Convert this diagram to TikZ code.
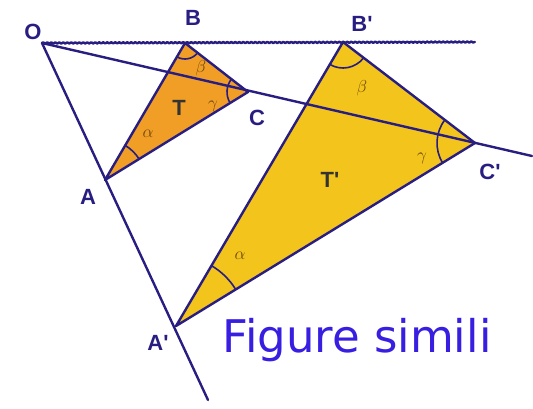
\documentclass[tikz,border=0pt]{standalone}
\usepackage{fontspec}
\setmainfont{Liberation Sans}
\newfontfamily\titlefont{DejaVu Sans}
\usetikzlibrary{angles,decorations.pathmorphing}

\definecolor{ink}{RGB}{40,30,130}
\definecolor{smallfill}{RGB}{240,158,38}
\definecolor{bigfill}{RGB}{242,196,28}
\definecolor{greekcol}{RGB}{110,70,15}
\definecolor{titleblue}{RGB}{55,30,225}

\begin{document}
\begin{tikzpicture}[x=1pt, y=-1pt,
  edge/.style={draw=ink, line width=2.4pt, line join=round, line cap=round},
  anglearc/.style={draw=ink, line width=1.6pt},
  vtx/.style={font=\fontsize{22}{22}\selectfont\bfseries, text=ink, inner sep=0pt},
  tri/.style={font=\fontsize{22}{22}\selectfont\bfseries, text=black!80, inner sep=0pt},
  greek/.style={font=\fontsize{18}{18}\selectfont, text=greekcol, inner sep=0pt},
]
\useasboundingbox (0,0) rectangle (533,408);

% points
\coordinate (O) at (42,43);
\coordinate (A) at (105,180);
\coordinate (B) at (185,43);
\coordinate (C) at (248,92);
\coordinate (Ap) at (176,326);
\coordinate (Bp) at (343,42);
\coordinate (Cp) at (475,143);
\coordinate (Aend) at (208,400);
\coordinate (Bend) at (475,42);
\coordinate (Cend) at (532,156);

% triangles
\fill[smallfill] (A) -- (B) -- (C) -- cycle;
\fill[bigfill] (Ap) -- (Bp) -- (Cp) -- cycle;
\draw[edge] (A) -- (B) -- (C) -- cycle;
\draw[edge] (Ap) -- (Bp) -- (Cp) -- cycle;

% rays from O
\draw[edge] (O) -- (Aend);
\draw[edge] (O) -- (Cend);
\draw[edge, decorate, decoration={snake, amplitude=0.6pt, segment length=4pt}] (O) -- (Bend);

% angles
\pic[anglearc, angle radius=40pt] {angle=C--A--B};
\pic[anglearc, angle radius=16pt] {angle=A--B--C};
\pic[anglearc, angle radius=21pt] {angle=B--C--A};
\pic[anglearc, angle radius=70pt] {angle=Cp--Ap--Bp};
\pic[anglearc, angle radius=26pt] {angle=Ap--Bp--Cp};
\pic[anglearc, angle radius=38pt] {angle=Bp--Cp--Ap};

% labels
\node[vtx] (labO) at (33,32) {O};
\node[vtx] (labA) at (88,197) {A};
\node[vtx] (labB) at (193,18) {B};
\node[vtx] (labC) at (257,118) {C};
\node[vtx] (labAp) at (158,343) {A\textquotesingle};
\node[vtx] (labBp) at (362,24) {B\textquotesingle};
\node[vtx] (labCp) at (490,172) {C\textquotesingle};
\node[tri] (labT) at (179,108) {T};
\node[tri] (labTp) at (330,180) {T\textquotesingle};
\node[greek] (alf) at (148,134) {$\alpha$};
\node[greek] (bet) at (201,68) {$\beta$};
\node[greek] (gam) at (213,106) {$\gamma$};
\node[greek] (alfp) at (240,256) {$\alpha$};
\node[greek] (betp) at (362,88) {$\beta$};
\node[greek] (gamp) at (422,158) {$\gamma$};

\node[font=\titlefont\fontsize{45}{45}\selectfont, text=titleblue, inner sep=0pt] (title) at (357,340) {Figure simili};
\end{tikzpicture}
\end{document}
